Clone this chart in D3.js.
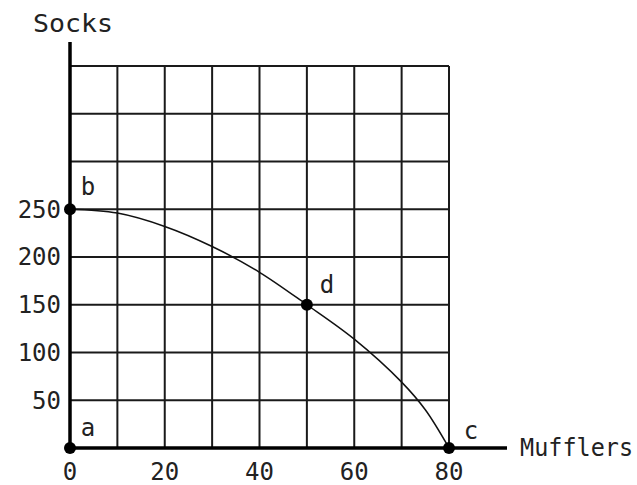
<!DOCTYPE html>
<html><head><meta charset="utf-8">
<script src="https://cdn.jsdelivr.net/npm/d3@7"></script>
<style>body{margin:0;background:#fff}svg{display:block}text{font-family:"DejaVu Sans Mono",monospace;fill:#222}</style>
</head><body><svg id="c" width="637" height="485"></svg>
<script>
const xTicks = [0, 20, 40, 60, 80];
const yTicks = [50, 100, 150, 200, 250];
const gridX = [0, 10, 20, 30, 40, 50, 60, 70, 80];
const gridY = [0, 50, 100, 150, 200, 250, 300, 350, 400];
const curveX = [0, 10, 20, 30, 40, 50, 60, 70, 75, 80];
const curveY = [250, 246, 232, 211, 184, 150, 114, 69, 40, 0];
const pointNames = ["a", "b", "c", "d"];
const pointX = [0, 0, 80, 50];
const pointY = [0, 250, 0, 150];
const xTitle = "Mufflers", yTitle = "Socks";

const svg = d3.select("#c");
const x = d3.scaleLinear().domain([0, 80]).range([70, 449]);
const y = d3.scaleLinear().domain([0, 400]).range([448, 66]);

// grid
svg.append("g").selectAll("line").data(gridX).join("line")
  .attr("x1", d => x(d)).attr("x2", d => x(d)).attr("y1", y(0)).attr("y2", y(400))
  .attr("stroke", "#1a1a1a").attr("stroke-width", 2);
svg.append("g").selectAll("line").data(gridY).join("line")
  .attr("y1", d => y(d)).attr("y2", d => y(d)).attr("x1", x(0)).attr("x2", x(80))
  .attr("stroke", "#1a1a1a").attr("stroke-width", 2);

// axes
svg.append("line").attr("x1", x(0)).attr("x2", x(0)).attr("y1", 42).attr("y2", y(0))
  .attr("stroke", "#000").attr("stroke-width", 3.5);
svg.append("line").attr("x1", x(0)).attr("x2", 507).attr("y1", y(0)).attr("y2", y(0))
  .attr("stroke", "#000").attr("stroke-width", 3.5);

// curve
const pts = curveX.map((v, i) => [v, curveY[i]]);
svg.append("path").datum(pts)
  .attr("d", d3.line().x(d => x(d[0])).y(d => y(d[1])).curve(d3.curveCatmullRom.alpha(0.5)))
  .attr("fill", "none").attr("stroke", "#111").attr("stroke-width", 1.5);

// tick labels
svg.append("g").selectAll("text").data(xTicks).join("text")
  .attr("x", d => x(d)).attr("y", 472).attr("dy", "0.35em").attr("text-anchor", "middle")
  .attr("font-size", 24).text(d => d);
svg.append("g").selectAll("text").data(yTicks).join("text")
  .attr("x", 61).attr("y", d => y(d)).attr("dy", "0.35em").attr("text-anchor", "end")
  .attr("font-size", 24).text(d => d);

// titles
svg.append("text").attr("x", 33).attr("y", 23).attr("dy", "0.35em").attr("font-size", 25)
  .attr("textLength", 80).attr("lengthAdjust", "spacingAndGlyphs").text(yTitle);
svg.append("text").attr("x", 520).attr("y", 448).attr("dy", "0.35em").attr("font-size", 24)
  .attr("textLength", 113).attr("lengthAdjust", "spacingAndGlyphs").text(xTitle);

// points
const pd = pointNames.map((n, i) => ({n, x: pointX[i], y: pointY[i]}));
svg.append("g").selectAll("circle").data(pd).join("circle")
  .attr("cx", d => x(d.x)).attr("cy", d => y(d.y)).attr("r", 6).attr("fill", "#000");
const off = {a: [18, -20], b: [18, -23], c: [22, -17], d: [20, -20]};
svg.append("g").selectAll("text").data(pd).join("text")
  .attr("x", d => x(d.x) + off[d.n][0]).attr("y", d => y(d.y) + off[d.n][1])
  .attr("dy", "0.35em").attr("text-anchor", "middle").attr("font-size", 24).text(d => d.n);
</script></body></html>
